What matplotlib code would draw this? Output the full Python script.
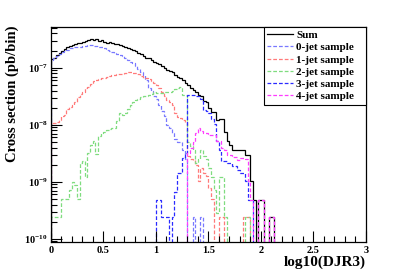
import numpy as np
import matplotlib
matplotlib.use("Agg")
import matplotlib.pyplot as plt
from matplotlib.ticker import FixedLocator, FuncFormatter, MultipleLocator

plt.rcParams['font.family'] = ['Liberation Serif', 'DejaVu Serif']
plt.rcParams['mathtext.fontset'] = 'custom'
plt.rcParams['mathtext.rm'] = 'Liberation Serif:bold'
plt.rcParams['mathtext.bf'] = 'Liberation Serif:bold'

# bin edges: 120 bins of log10(DJR3) from 0 to 3
edges = np.linspace(0.0, 3.0, 121)

# log10 of cross section per bin (0 = empty bin)
sum_log = [
    -6.85, -6.82, -6.78, -6.74, -6.70, -6.67, -6.64, -6.62, -6.60, -6.58,
    -6.57, -6.56, -6.54, -6.53, -6.52, -6.49, -6.51, -6.50, -6.53, -6.52,
    -6.54, -6.56, -6.55, -6.57, -6.58, -6.59, -6.60, -6.62, -6.63, -6.65,
    -6.67, -6.69, -6.71, -6.74, -6.76, -6.79, -6.82, -6.83, -6.86, -6.89,
    -6.92, -6.94, -6.97, -7.00, -7.03, -7.06, -7.08, -7.12, -7.16, -7.18,
    -7.22, -7.26, -7.30, -7.35, -7.39, -7.42, -7.47, -7.50, -7.59, -7.60,
    -7.70, -7.77, -7.77, -7.91, -7.89, -7.90, -8.12, -8.29, -8.35, -8.44,
    -8.44, -8.44, -8.44, -8.44, -8.53, -8.53, -8.99, -9.32, 0, -9.32,
    -9.32, 0, 0, -9.61, -9.61, 0, 0, 0, 0, 0,
] + [0] * 30

jet0_log = [
    -6.86, -6.83, -6.79, -6.76, -6.72, -6.70, -6.68, -6.66, -6.65, -6.64,
    -6.63, -6.63, -6.62, -6.61, -6.60, -6.60, -6.61, -6.62, -6.63, -6.64,
    -6.66, -6.68, -6.70, -6.72, -6.74, -6.76, -6.78, -6.80, -6.83, -6.86,
    -6.89, -6.92, -6.97, -7.02, -7.07, -7.12, -7.21, -7.35, -7.40, -7.50,
    -7.55, -7.65, -7.75, -7.85, -8.00, -8.05, -8.15, -8.25, -8.30, -8.31,
    -8.45, -8.60, 0, 0, -9.61, 0, 0, -9.61, 0, 0,
] + [0] * 60

jet1_log = [
    -7.97, -7.97, -7.95, -7.91, -7.85, -7.82, -7.72, -7.68, -7.66, -7.60,
    -7.52, -7.46, -7.42, -7.36, -7.33, -7.28, -7.24, -7.22, -7.19, -7.18,
    -7.17, -7.16, -7.14, -7.13, -7.12, -7.11, -7.10, -7.10, -7.09, -7.08,
    -7.08, -7.09, -7.09, -7.11, -7.14, -7.17, -7.18, -7.20, -7.24, -7.26,
    -7.30, -7.36, -7.42, -7.50, -7.56, -7.60, -7.65, -7.80, -7.86, -7.88,
    -7.92, -7.95, -8.55, -8.60, -8.62, -8.70, -8.99, -8.76, -8.85, -8.90,
    -9.10, -9.30, 0, 0, -9.61, -9.61, 0, 0, 0, 0,
    0, 0, 0, -9.61, -9.61, -9.61, 0, 0, 0, 0,
] + [0] * 40

jet2_log = [
    -9.61, -9.61, -9.61, -9.61, -9.30, -9.30, -9.30, -9.14, -9.01, -9.05,
    -9.30, -8.67, -8.64, -8.91, -8.50, -8.35, -8.29, -8.52, -8.20, -8.15,
    -8.12, -8.09, -8.08, -8.06, -8.06, -7.94, -7.80, -7.82, -7.80, -7.72,
    -7.65, -7.60, -7.56, -7.55, -7.52, -7.50, -7.50, -7.48, -7.46, -7.42,
    -7.45, -7.44, -7.44, -7.43, -7.42, -7.42, -7.40, -7.38, -7.36, -7.33,
    -7.47, -7.47, -8.30, -8.38, -8.45, -8.67, -8.60, -8.44, -8.55, -8.60,
    -8.75, -8.91, -9.14, -9.54, -8.91, -8.91, -9.61, 0, 0, 0,
    0, 0, 0, 0, -9.61, -9.61, 0, 0, 0, 0,
] + [0] * 40

jet3_log = [0] * 40 + [
    -9.32, -9.32, -9.61, -9.61, -9.61, 0, -9.61, -9.17, -8.85, -8.85,
    -8.58, -8.50, -7.47, -7.47, -7.48, -7.50, -7.50, -7.55, -7.74, -7.75,
    -7.80, -7.90, -7.98, -8.29, -8.45, -8.64, -8.64, -8.67, -8.67, -8.73,
    -8.73, -8.80, -8.85, -8.85, -8.99, -9.32, -9.32, 0, 0, 0,
] + [0] * 40

jet4_log = [0] * 50 + [
    0, 0, -8.50, -8.40, -8.30, -8.15, -8.06, -8.10, -8.15, -8.15,
    -8.18, -8.18, -8.18, -8.29, -8.29, -8.40, -8.45, -8.53, -8.53, -8.56,
    -8.56, -8.62, -8.58, -8.58, -8.60, -8.99, -9.32, 0, 0, -9.32,
    -9.32, 0, 0, -9.61, -9.61, 0, 0, 0, 0, 0,
] + [0] * 30

labels = ["Sum", "0-jet sample", "1-jet sample", "2-jet sample",
          "3-jet sample", "4-jet sample"]
colors = ["black", "#7878ff", "#ff7a7a", "#7fdc7f", "#2a2aff", "#ff3cff"]
series = [sum_log, jet0_log, jet1_log, jet2_log, jet3_log, jet4_log]

fig = plt.figure(figsize=(4.07, 2.76), dpi=100)
ax = fig.add_axes([50.7 / 407, 1 - 242 / 276, (366 - 50.7) / 407, (242 - 27) / 276])

for lg, lab, col in zip(series, labels, colors):
    e = np.array(lg, dtype=float)
    v = np.where(e < 0, 10.0 ** e, 1e-14)
    if lab == "Sum":
        ax.stairs(v, edges, color=col, lw=0.9, label=lab)
    else:
        ax.stairs(v, edges, color=col, lw=0.9, ls=(0, (3, 1.6)), label=lab)

ax.set_yscale('log')
ax.set_xlim(0, 3)
ax.set_ylim(8.8e-11, 5.2e-7)

ax.xaxis.set_major_locator(MultipleLocator(0.5))
ax.xaxis.set_minor_locator(MultipleLocator(0.1))
ax.xaxis.set_major_formatter(FuncFormatter(lambda x, p: f"{x:g}"))
ax.yaxis.set_major_locator(FixedLocator([1e-10, 1e-9, 1e-8, 1e-7]))
ax.yaxis.set_major_formatter(FuncFormatter(
    lambda y, p: r"$\mathbf{10^{%d}}$" % int(round(np.log10(y)))))
ax.tick_params(which='both', direction='in', top=False, right=False,
               labelsize=7.5, width=0.8)
ax.tick_params(which='major', length=8)
ax.tick_params(which='minor', length=4)
ax.tick_params(axis='x', pad=3)
ax.tick_params(axis='y', pad=2)
for t in ax.get_xticklabels():
    t.set_fontweight('bold')
for s in ax.spines.values():
    s.set_linewidth(0.9)

ax.set_xlabel("log10(DJR3)", fontsize=11, fontweight='bold', loc='right')
ax.xaxis.set_label_coords(1.0, -0.065)
ax.xaxis.label.set_va('top')
ax.set_ylabel("Cross section (pb/bin)", fontsize=10.5, fontweight='bold', loc='top')
ax.yaxis.set_label_coords(-0.102, 1.005)

lx0 = (264 - 50.7) / (366 - 50.7)
lh = (103 - 27) / 215
leg = ax.legend(loc='upper left', bbox_to_anchor=(lx0, 1 - lh, 1 - lx0, lh),
                mode='expand', borderaxespad=0,
                fancybox=False, edgecolor='black', framealpha=1,
                prop={'weight': 'bold', 'size': 8}, handlelength=2.3,
                handletextpad=0.3, labelspacing=0.22, borderpad=0.3)
leg.get_frame().set_linewidth(0.8)

fig.savefig("out.png", dpi=100)
